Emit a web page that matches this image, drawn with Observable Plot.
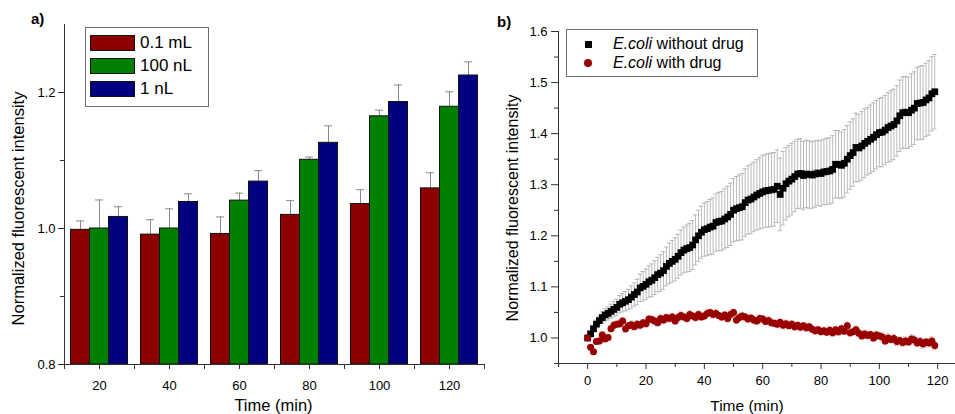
<!DOCTYPE html>
<html>
<head>
<meta charset="utf-8">
<script src="https://cdn.jsdelivr.net/npm/d3@7"></script>
<script src="https://cdn.jsdelivr.net/npm/@observablehq/plot@0.6"></script>
<style>
  html, body { margin: 0; padding: 0; background: #fff; overflow: hidden; }
  #wrap { position: relative; width: 955px; height: 414px; overflow: hidden; font-family: 'Liberation Sans', Arial, sans-serif; color: #000; }
  .panel { position: absolute; top: 0; }
  .lbl { position: absolute; font-weight: bold; font-size: 15px; line-height: 15px; }
  .legend { position: absolute; border: 1px solid #707070; box-sizing: border-box; background: #fff; }
  .row { position: absolute; display: flex; align-items: center; white-space: nowrap; }
</style>
</head>
<body>
<div id="wrap">
  <div class="panel" id="pa" style="left:0;"></div>
  <div class="panel" id="pb" style="left:480px;"></div>
  <div class="lbl" style="left:31px; top:11px;">a)</div>
  <div class="lbl" style="left:497px; top:14px;">b)</div>
  <div id="legA"></div>
  <div id="legB"></div>
</div>
<script>
// ---------- Panel a data ----------
const timesA = [20, 40, 60, 80, 100, 120];
const seriesA = ["0.1 mL", "100 nL", "1 nL"];
const colorsA = ["#8c0000", "#008000", "#000080"];
const val01mL = [0.998, 0.991, 0.992, 1.020, 1.036, 1.059];
const err01mL = [0.013, 0.022, 0.025, 0.021, 0.021, 0.023];
const val100nL = [1.000, 1.000, 1.041, 1.101, 1.165, 1.179];
const err100nL = [0.042, 0.029, 0.011, 0.004, 0.009, 0.022];
const val1nL = [1.017, 1.039, 1.069, 1.126, 1.186, 1.225];
const err1nL = [0.015, 0.012, 0.016, 0.025, 0.025, 0.020];
const yTicksA = [0.8, 1.0, 1.2];
const yMinorA = [0.9, 1.1];
const xTicksA = [20, 40, 60, 80, 100, 120];
const xBoundsA = [10, 30, 50, 70, 90, 110, 130];

// ---------- Panel b data ----------
const timeB = [0,1,2,3,4,5,6,7,8,9,10,11,12,13,14,15,16,17,18,19,20,21,22,23,24,25,26,27,28,29,
  30,31,32,33,34,35,36,37,38,39,40,41,42,43,44,45,46,47,48,49,50,51,52,53,54,55,56,57,58,59,
  60,61,62,63,64,65,66,67,68,69,70,71,72,73,74,75,76,77,78,79,80,81,82,83,84,85,86,87,88,89,
  90,91,92,93,94,95,96,97,98,99,100,101,102,103,104,105,106,107,108,109,110,111,112,113,114,115,116,117,118,119];
const noDrug = [1.000,1.008,1.018,1.027,1.034,1.040,1.045,1.048,1.052,1.056,
  1.060,1.066,1.069,1.072,1.075,1.080,1.085,1.090,1.098,1.101,
  1.105,1.110,1.113,1.118,1.124,1.127,1.132,1.140,1.146,1.150,
  1.154,1.160,1.167,1.172,1.175,1.177,1.182,1.192,1.200,1.207,
  1.212,1.214,1.217,1.219,1.226,1.228,1.229,1.233,1.237,1.242,
  1.250,1.253,1.255,1.257,1.265,1.270,1.272,1.276,1.280,1.283,
  1.286,1.288,1.289,1.290,1.291,1.297,1.281,1.293,1.302,1.307,
  1.311,1.316,1.321,1.322,1.318,1.321,1.320,1.319,1.321,1.323,
  1.322,1.325,1.326,1.327,1.330,1.340,1.340,1.338,1.342,1.350,
  1.357,1.363,1.373,1.372,1.376,1.381,1.385,1.389,1.393,1.398,
  1.402,1.403,1.407,1.412,1.415,1.418,1.425,1.435,1.441,1.442,
  1.441,1.446,1.450,1.459,1.460,1.461,1.466,1.470,1.478,1.482];
const noDrugErr = [0.002,0.004,0.006,0.008,0.009,0.011,0.012,0.013,0.014,0.015,
  0.016,0.017,0.018,0.019,0.020,0.022,0.023,0.025,0.027,0.029,
  0.030,0.031,0.032,0.033,0.034,0.036,0.037,0.038,0.040,0.041,
  0.042,0.043,0.044,0.045,0.046,0.047,0.048,0.049,0.050,0.051,
  0.052,0.053,0.054,0.055,0.056,0.057,0.058,0.059,0.060,0.061,
  0.062,0.063,0.064,0.065,0.066,0.067,0.068,0.068,0.069,0.070,
  0.071,0.071,0.072,0.072,0.072,0.071,0.071,0.072,0.071,0.070,
  0.070,0.069,0.068,0.068,0.067,0.066,0.066,0.065,0.065,0.064,
  0.064,0.064,0.065,0.065,0.066,0.066,0.066,0.065,0.066,0.066,
  0.066,0.066,0.067,0.066,0.067,0.067,0.066,0.067,0.067,0.067,
  0.067,0.068,0.068,0.068,0.069,0.069,0.069,0.070,0.070,0.070,
  0.070,0.071,0.071,0.071,0.072,0.072,0.072,0.073,0.073,0.073];
const withDrug = [1.000,0.982,0.973,0.993,0.994,1.006,0.998,1.001,1.018,1.025,
  1.027,1.028,1.033,1.018,1.024,1.026,1.022,1.027,1.025,1.030,
  1.028,1.037,1.036,1.033,1.030,1.038,1.035,1.040,1.038,1.041,
  1.033,1.040,1.044,1.041,1.038,1.046,1.043,1.040,1.046,1.041,
  1.043,1.048,1.050,1.046,1.048,1.044,1.041,1.045,1.038,1.046,
  1.050,1.035,1.040,1.043,1.041,1.037,1.039,1.035,1.033,1.038,
  1.037,1.032,1.034,1.030,1.029,1.027,1.031,1.025,1.028,1.024,
  1.027,1.022,1.025,1.021,1.024,1.020,1.022,1.017,1.014,1.016,
  1.012,1.014,1.011,1.015,1.010,1.016,1.012,1.018,1.013,1.024,
  1.010,1.012,1.016,1.009,1.004,1.008,1.005,1.007,1.000,1.006,
  1.004,1.002,0.994,1.000,0.997,0.999,0.993,0.995,0.991,0.994,
  0.992,0.998,0.996,0.990,0.993,0.988,0.992,0.990,0.994,0.985];
const withDrugErr = [0.003,0.004,0.005,0.005,0.006,0.006,0.005,0.006,0.006,0.007,
  0.006,0.007,0.006,0.007,0.006,0.007,0.006,0.007,0.007,0.006,
  0.007,0.006,0.007,0.007,0.006,0.007,0.007,0.006,0.007,0.007,
  0.006,0.007,0.007,0.006,0.007,0.007,0.006,0.007,0.007,0.006,
  0.007,0.007,0.006,0.007,0.007,0.006,0.007,0.006,0.007,0.007,
  0.006,0.007,0.007,0.006,0.007,0.007,0.006,0.007,0.006,0.007,
  0.007,0.006,0.007,0.007,0.006,0.007,0.006,0.007,0.007,0.006,
  0.007,0.007,0.006,0.007,0.006,0.007,0.007,0.006,0.007,0.007,
  0.006,0.007,0.006,0.007,0.007,0.006,0.007,0.007,0.006,0.007,
  0.007,0.006,0.007,0.007,0.006,0.007,0.007,0.006,0.007,0.007,
  0.007,0.008,0.007,0.008,0.007,0.008,0.008,0.007,0.008,0.008,
  0.007,0.008,0.008,0.007,0.008,0.008,0.007,0.008,0.008,0.008];
const seriesB = ["E.coli without drug", "E.coli with drug"];
const yTicksB = [1.0, 1.1, 1.2, 1.3, 1.4, 1.5, 1.6];
const yMinorB = [0.95, 1.05, 1.15, 1.25, 1.35, 1.45, 1.55];
const xTicksB = [0, 20, 40, 60, 80, 100, 120];
const xMinorB = [-10, 10, 30, 50, 70, 90, 110];

const FONT = "'Liberation Sans', Arial, sans-serif";

// ---------- Panel a ----------
const BAR = 5.43; // bar width in minutes (styling)
const CAP = 1.15;
const valsA = [val01mL, val100nL, val1nL];
const errsA = [err01mL, err100nL, err1nL];
const rowsA = [];
seriesA.forEach((s, k) => timesA.forEach((t, i) => rowsA.push({time: t, series: s, k, value: valsA[k][i], err: errsA[k][i]})));
const cx = d => d.time + (d.k - 1) * BAR;

const plotA = Plot.plot({
  width: 484, height: 414,
  marginLeft: 64, marginRight: 0, marginTop: 24, marginBottom: 50,
  style: {fontFamily: FONT, fontSize: "13px", color: "#000", background: "transparent", overflow: "visible"},
  x: {domain: [10, 130]},
  y: {domain: [0.8, 1.3]},
  color: {domain: seriesA, range: colorsA},
  marks: [
    Plot.ruleX(rowsA, {x: cx, y1: "value", y2: d => d.value + d.err, stroke: "#8a8a8a", strokeWidth: 1}),
    Plot.ruleY(rowsA, {y: d => d.value + d.err, x1: d => cx(d) - CAP, x2: d => cx(d) + CAP, stroke: "#8a8a8a", strokeWidth: 1}),
    Plot.rectY(rowsA, {x1: d => d.time + (d.k - 1.5) * BAR, x2: d => d.time + (d.k - 0.5) * BAR, y1: 0.8, y2: "value", fill: "series", stroke: "#111", strokeWidth: 1}),
    Plot.ruleX([10], {stroke: "#333"}),
    Plot.ruleY([0.8], {stroke: "#333"}),
    Plot.axisY({ticks: yTicksA, tickSize: 6, tickPadding: 3, tickFormat: d3.format(".1f"), label: null, stroke: "#333"}),
    Plot.axisY({ticks: yMinorA, tickSize: 4, tickFormat: () => "", label: null, stroke: "#333"}),
    Plot.axisX({ticks: xTicksA, tickSize: 5, tickPadding: 11, tickFormat: d => String(d), label: null, stroke: "#333"}),
    Plot.axisX({ticks: xBoundsA, tickSize: 5, tickFormat: () => "", label: null, stroke: "#333"}),
    Plot.text(["Normalized fluorescent intensity"], {frameAnchor: "left", textAnchor: "middle", lineAnchor: "middle", rotate: -90, dx: -46, dy: 14, fontSize: 16.5}),
    Plot.text(["Time (min)"], {frameAnchor: "bottom", textAnchor: "middle", lineAnchor: "bottom", dx: -1, dy: 46, fontSize: 16.5})
  ]
});
document.getElementById("pa").appendChild(plotA);

// ---------- Panel b ----------
const rowsNo = timeB.map((t, i) => ({t, v: noDrug[i], e: noDrugErr[i]}));
const rowsWith = timeB.map((t, i) => ({t, v: withDrug[i], e: withDrugErr[i]}));
const CAPB = 0.75;
const errMarks = (rows, color) => [
  Plot.ruleX(rows, {x: "t", y1: d => d.v - d.e, y2: d => d.v + d.e, stroke: color, strokeWidth: 0.8}),
  Plot.ruleY(rows, {y: d => d.v + d.e, x1: d => d.t - CAPB, x2: d => d.t + CAPB, stroke: color, strokeWidth: 0.8}),
  Plot.ruleY(rows, {y: d => d.v - d.e, x1: d => d.t - CAPB, x2: d => d.t + CAPB, stroke: color, strokeWidth: 0.8})
];

const plotB = Plot.plot({
  width: 475, height: 414,
  marginLeft: 78, marginRight: 0, marginTop: 31, marginBottom: 51,
  style: {fontFamily: FONT, fontSize: "13px", color: "#000", background: "transparent", overflow: "visible"},
  x: {domain: [-10, 126.1]},
  y: {domain: [0.95, 1.6]},
  marks: [
    ...errMarks(rowsNo, "#a8a8a8"),
    Plot.dot(rowsNo, {x: "t", y: "v", symbol: "square", r: 3.8, fill: "#000", stroke: "none"}),
    ...errMarks(rowsWith, "#e3a3a3"),
    Plot.dot(rowsWith, {x: "t", y: "v", symbol: "circle", r: 3.5, fill: "#990000", stroke: "none"}),
    Plot.ruleX([-10], {stroke: "#333"}),
    Plot.ruleY([0.95], {stroke: "#333"}),
    Plot.axisY({ticks: yTicksB, tickSize: 7, tickPadding: 4, tickFormat: d3.format(".1f"), label: null, stroke: "#333"}),
    Plot.axisY({ticks: yMinorB, tickSize: 4, tickFormat: () => "", label: null, stroke: "#333"}),
    Plot.axisX({ticks: xTicksB, tickSize: 6, tickPadding: 6, tickFormat: d => String(d), label: null, stroke: "#333"}),
    Plot.axisX({ticks: xMinorB, tickSize: 4, tickFormat: () => "", label: null, stroke: "#333"}),
    Plot.text(["Normalized fluorescent intensity"], {frameAnchor: "left", textAnchor: "middle", lineAnchor: "middle", rotate: -90, dx: -46, dy: 10.5, fontSize: 16}),
    Plot.text(["Time (min)"], {frameAnchor: "bottom", textAnchor: "middle", lineAnchor: "top", dx: -10, dy: 36, fontSize: 15.5})
  ]
});
document.getElementById("pb").appendChild(plotB);

// ---------- Legends (HTML) ----------
const legA = document.getElementById("legA");
legA.className = "legend";
Object.assign(legA.style, {left: "85px", top: "27px", width: "124px", height: "80px"});
const swTops = [35, 58, 81];
seriesA.forEach((s, k) => {
  const row = document.createElement("div");
  row.className = "row";
  Object.assign(row.style, {left: "4px", top: (swTops[k] - 28) + "px", height: "16px"});
  const sw = document.createElement("div");
  Object.assign(sw.style, {width: "45px", height: "16px", background: colorsA[k], border: "1px solid #111", boxSizing: "border-box"});
  const tx = document.createElement("span");
  tx.textContent = s;
  Object.assign(tx.style, {marginLeft: "5px", fontSize: "17px", lineHeight: "16px"});
  row.append(sw, tx);
  legA.appendChild(row);
});

const legB = document.getElementById("legB");
legB.className = "legend";
Object.assign(legB.style, {left: "566px", top: "29px", width: "192px", height: "48px"});
const markB = [
  {shape: {width: "7px", height: "7px", background: "#000"}, y: 14},
  {shape: {width: "8px", height: "8px", background: "#990000", borderRadius: "50%"}, y: 33}
];
seriesB.forEach((s, k) => {
  const row = document.createElement("div");
  row.className = "row";
  Object.assign(row.style, {left: "16px", top: (markB[k].y - 9) + "px", height: "18px"});
  const mk = document.createElement("div");
  Object.assign(mk.style, markB[k].shape);
  const holder = document.createElement("div");
  Object.assign(holder.style, {width: "10px", display: "flex", justifyContent: "center"});
  holder.appendChild(mk);
  const tx = document.createElement("span");
  const [italic, rest] = [s.slice(0, 6), s.slice(6)];
  tx.innerHTML = "<i>" + italic + "</i>" + rest;
  Object.assign(tx.style, {marginLeft: "20px", fontSize: "16px", lineHeight: "18px"});
  row.append(holder, tx);
  legB.appendChild(row);
});
</script>
</body>
</html>
